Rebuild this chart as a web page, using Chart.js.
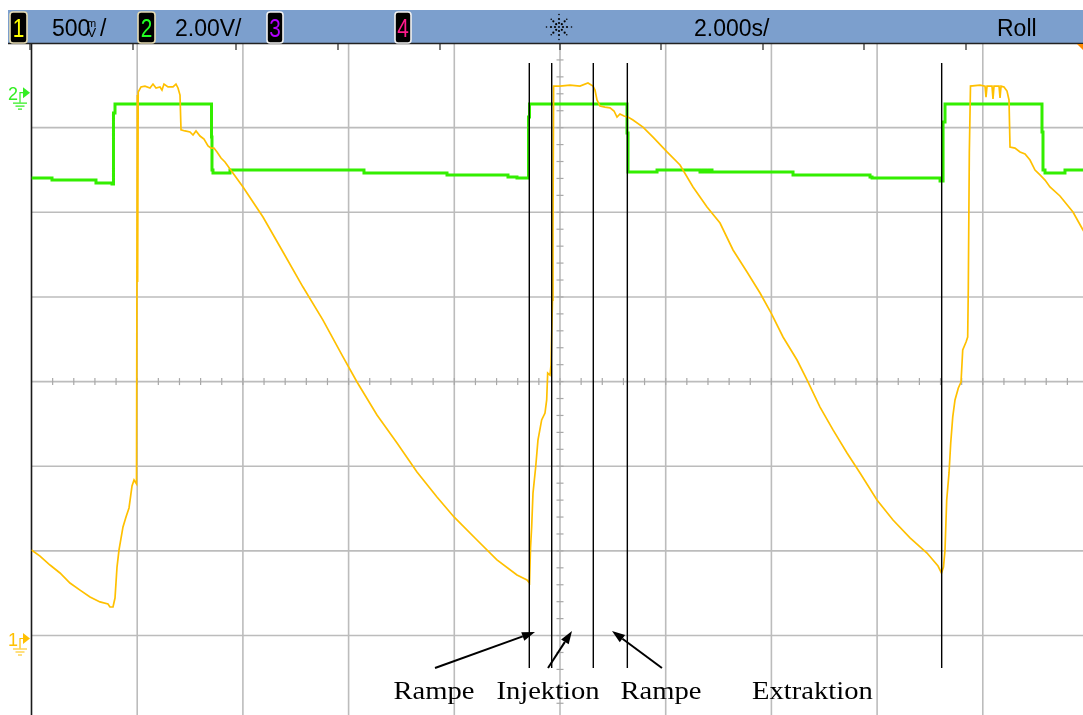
<!DOCTYPE html>
<html>
<head>
<meta charset="utf-8">
<script src="https://cdn.jsdelivr.net/npm/chart.js@4.4.1/dist/chart.umd.min.js"></script>
<style>
  html, body { margin: 0; padding: 0; background: #ffffff; overflow: hidden; }
  #wrap { position: absolute; left: 0; top: 0; width: 1100px; height: 730px; }
</style>
</head>
<body>
<div id="wrap"><canvas id="scope" width="1100" height="730"></canvas></div>
<script>
// ---- Timebase and screen divisions (2.000 s/div, 10 x 8 divisions) ----
const timeGrid = [0, 2, 4, 6, 8, 10, 12, 14, 16, 18, 20];
const divGrid = [-4, -3, -2, -1, 0, 1, 2, 3, 4];

// ---- Channel settings ----
const ch1VoltsPerDiv = 0.5;   // 500 mV/div
const ch1GroundDiv = -3.035;  // ground marker position in divisions
const ch2VoltsPerDiv = 2.0;   // 2.00 V/div
const ch2GroundDiv = 3.413;

// ---- Channel 1 (magnet current monitor), time in s, voltage in V ----
const ch1Time = [0, 0.161, 0.350, 0.539, 0.728, 0.918, 1.107, 1.296, 1.447, 1.485,
  1.542, 1.580, 1.618, 1.656, 1.731, 1.788, 1.845, 1.902, 1.940, 1.987,
  2.002, 2.008, 2.019, 2.072, 2.147, 2.242, 2.299, 2.356, 2.431, 2.469,
  2.507, 2.583, 2.677, 2.734, 2.772, 2.810, 2.829, 2.904, 2.999, 3.056,
  3.113, 3.188, 3.264, 3.340, 3.396, 3.453, 3.510, 3.586, 3.661, 3.756,
  4.002, 4.380, 4.759, 5.137, 5.515, 5.894, 6.159, 6.537, 6.916, 7.294,
  7.672, 7.994, 8.429, 8.807, 9.186, 9.375, 9.423, 9.442, 9.464, 9.489,
  9.540, 9.583, 9.653, 9.716, 9.748, 9.767, 9.811, 9.830, 9.858, 9.867,
  9.879, 9.999, 10.189, 10.378, 10.529, 10.624, 10.662, 10.700, 10.757, 10.851,
  10.946, 11.022, 11.079, 11.135, 11.211, 11.287, 11.381, 11.570, 11.760, 12.025,
  12.271, 12.517, 12.782, 13.028, 13.274, 13.539, 13.785, 13.993, 14.220, 14.485,
  14.674, 14.920, 15.166, 15.431, 15.677, 15.998, 16.301, 16.623, 16.944, 17.153,
  17.218, 17.256, 17.285, 17.317, 17.361, 17.393, 17.431, 17.474, 17.537, 17.588,
  17.620, 17.683, 17.714, 17.726, 17.745, 17.767, 17.947, 18.042, 18.061, 18.080,
  18.174, 18.193, 18.212, 18.307, 18.326, 18.345, 18.401, 18.458, 18.496, 18.515,
  18.609, 18.704, 18.799, 18.893, 18.988, 19.082, 19.177, 19.271, 19.460, 19.706,
  19.896, 19.991];
const ch1Volts = [0.523, 0.487, 0.434, 0.387, 0.328, 0.286, 0.245, 0.216, 0.204, 0.186,
  0.186, 0.239, 0.422, 0.523, 0.659, 0.718, 0.771, 0.901, 0.936, 0.913,
  3.210, 2.106, 3.228, 3.258, 3.263, 3.252, 3.275, 3.252, 3.258, 3.240,
  3.275, 3.258, 3.258, 3.275, 3.252, 3.210, 3.004, 2.998, 2.992, 2.974,
  2.998, 2.968, 2.950, 2.909, 2.897, 2.897, 2.874, 2.838, 2.815, 2.773,
  2.667, 2.490, 2.283, 2.076, 1.881, 1.663, 1.515, 1.320, 1.155, 0.983,
  0.836, 0.718, 0.582, 0.464, 0.375, 0.346, 0.328, 0.535, 0.659, 0.859,
  1.013, 1.172, 1.291, 1.332, 1.409, 1.568, 1.556, 1.615, 1.999, 2.395,
  3.263, 3.263, 3.269, 3.263, 3.281, 3.263, 3.240, 3.181, 3.145, 3.139,
  3.134, 3.116, 3.080, 3.098, 3.086, 3.080, 3.063, 3.021, 2.962, 2.874,
  2.797, 2.667, 2.549, 2.454, 2.295, 2.165, 2.041, 1.923, 1.781, 1.645,
  1.527, 1.367, 1.232, 1.096, 0.978, 0.818, 0.700, 0.594, 0.505, 0.428,
  0.387, 0.422, 0.523, 0.818, 0.978, 1.155, 1.308, 1.409, 1.480, 1.515,
  1.704, 1.751, 1.781, 2.076, 2.868, 3.263, 3.269, 3.263, 3.198, 3.263,
  3.263, 3.187, 3.263, 3.263, 3.193, 3.263, 3.258, 3.234, 3.181, 2.903,
  2.897, 2.874, 2.862, 2.826, 2.767, 2.738, 2.708, 2.667, 2.614, 2.519,
  2.413, 2.354];

// ---- Channel 2 (timing gate), level changes: time in s, voltage in V ----
const ch2Time = [0, 0.388, 1.220, 1.523, 1.551, 1.580, 3.406, 3.415, 3.434, 3.756,
  6.291, 7.862, 9.016, 9.186, 9.404, 9.423, 11.268, 11.287, 11.836, 12.649,
  12.706, 12.763, 12.820, 12.876, 14.409, 15.866, 15.904, 17.191, 17.248, 17.285,
  19.120, 19.139, 19.177, 19.555, 20];
const ch2Volts = [-2.015, -2.063, -2.134, -2.157, -0.480, -0.267, -1.047, -1.824, -1.897, -1.824,
  -1.897, -1.945, -1.992, -2.015, -0.574, -0.267, -0.952, -1.874, -1.824, -1.874,
  -1.824, -1.874, -1.824, -1.874, -1.945, -1.992, -2.015, -2.086, -0.692, -0.267,
  -0.928, -1.824, -1.897, -1.824, -1.824];

// ---- Cursor lines (time in s) and their vertical extent (divisions) ----
const cursorTimes = [9.419, 9.843, 10.630, 11.274, 17.222];
const cursorSpan = [3.764, -3.383];

// ---- Phase labels and pointer arrows (time in s, divisions) ----
const phaseLabels = ['Rampe', 'Injektion', 'Rampe', 'Extraktion'];
const phaseLabelTimes = [7.616, 9.773, 11.911, 14.777];
const phaseLabelDiv = -3.75;
const arrowTailTimes = [7.635, 9.773, 11.929];
const arrowHeadTimes = [9.527, 10.227, 10.984];
const arrowTailDiv = [-3.383, -3.383, -3.383];
const arrowHeadDiv = [-2.958, -2.946, -2.946];

const ch1Points = ch1Time.map((t, i) => ({ x: t, y: ch1Volts[i] }));
const ch2Points = ch2Time.map((t, i) => ({ x: t, y: ch2Volts[i] }));

const YELLOW = '#ffc000';
const GREEN = '#33ee00';

const scopeChrome = {
  id: 'scopeChrome',
  beforeDatasetsDraw(chart) {
    const { ctx, chartArea: a, scales } = chart;
    const xs = scales.x, yd = scales.div;
    ctx.save();
    // graticule
    ctx.strokeStyle = '#bcbcbc';
    ctx.lineWidth = 1.6;
    timeGrid.forEach(t => {
      if (t === timeGrid[0]) return;
      const px = xs.getPixelForValue(t);
      ctx.beginPath(); ctx.moveTo(px, a.top); ctx.lineTo(px, a.bottom); ctx.stroke();
    });
    divGrid.forEach(d => {
      if (d === divGrid[divGrid.length - 1]) return;
      const py = yd.getPixelForValue(d);
      ctx.beginPath(); ctx.moveTo(a.left, py); ctx.lineTo(a.right, py); ctx.stroke();
    });
    // minor ticks on the centre axes
    ctx.strokeStyle = '#a8a8a8';
    ctx.lineWidth = 1.2;
    const cy = yd.getPixelForValue(0);
    for (let t = 0.4; t < 20; t += 0.4) {
      const px = xs.getPixelForValue(t);
      ctx.beginPath(); ctx.moveTo(px, cy - 3.5); ctx.lineTo(px, cy + 3.5); ctx.stroke();
    }
    const cx = xs.getPixelForValue(10);
    for (let d = -3.8; d < 4; d += 0.2) {
      const py = yd.getPixelForValue(d);
      ctx.beginPath(); ctx.moveTo(cx - 3.5, py); ctx.lineTo(cx + 3.5, py); ctx.stroke();
    }
    // left frame edge
    ctx.strokeStyle = '#1a1a1a';
    ctx.lineWidth = 1.6;
    ctx.beginPath(); ctx.moveTo(a.left, a.top); ctx.lineTo(a.left, a.bottom); ctx.stroke();
    ctx.restore();
  },
  afterDatasetsDraw(chart) {
    const { ctx, scales } = chart;
    const xs = scales.x, yd = scales.div;
    ctx.save();
    // cursor lines
    ctx.strokeStyle = '#000';
    ctx.lineWidth = 1.4;
    cursorTimes.forEach(t => {
      const px = xs.getPixelForValue(t);
      ctx.beginPath();
      ctx.moveTo(px, yd.getPixelForValue(cursorSpan[0]));
      ctx.lineTo(px, yd.getPixelForValue(cursorSpan[1]));
      ctx.stroke();
    });
    // pointer arrows
    arrowTailTimes.forEach((t, i) => {
      const x0 = xs.getPixelForValue(t), y0 = yd.getPixelForValue(arrowTailDiv[i]);
      const x1 = xs.getPixelForValue(arrowHeadTimes[i]), y1 = yd.getPixelForValue(arrowHeadDiv[i]);
      const ang = Math.atan2(y1 - y0, x1 - x0);
      const len = 13, half = 4.5;
      const bx = x1 - len * Math.cos(ang), by = y1 - len * Math.sin(ang);
      ctx.strokeStyle = '#000'; ctx.lineWidth = 2;
      ctx.beginPath(); ctx.moveTo(x0, y0); ctx.lineTo(bx, by); ctx.stroke();
      ctx.fillStyle = '#000';
      ctx.beginPath();
      ctx.moveTo(x1, y1);
      ctx.lineTo(bx + half * Math.sin(ang), by - half * Math.cos(ang));
      ctx.lineTo(bx - half * Math.sin(ang), by + half * Math.cos(ang));
      ctx.closePath(); ctx.fill();
    });
    // phase labels
    ctx.fillStyle = '#000';
    ctx.font = '26px "Liberation Serif", "Times New Roman", serif';
    ctx.textAlign = 'center';
    ctx.textBaseline = 'alphabetic';
    phaseLabels.forEach((txt, i) => {
      ctx.save();
      ctx.translate(xs.getPixelForValue(phaseLabelTimes[i]), yd.getPixelForValue(phaseLabelDiv));
      ctx.scale(1.1, 1);
      ctx.fillText(txt, 0, 0);
      ctx.restore();
    });
    // ground reference markers
    const drawGround = (py, num, color) => {
      ctx.fillStyle = color; ctx.strokeStyle = color;
      ctx.font = '18px "Liberation Sans", Arial, sans-serif';
      ctx.textAlign = 'left';
      ctx.fillText(num, 8, py + 7);
      ctx.beginPath(); ctx.moveTo(23, py - 5.5); ctx.lineTo(30, py); ctx.lineTo(23, py + 5.5); ctx.closePath(); ctx.fill();
      ctx.lineWidth = 1.2;
      ctx.beginPath(); ctx.moveTo(23, py); ctx.lineTo(20, py); ctx.lineTo(20, py + 10); ctx.stroke();
      ctx.beginPath();
      ctx.moveTo(13, py + 10.5); ctx.lineTo(27, py + 10.5);
      ctx.moveTo(15.5, py + 13.5); ctx.lineTo(24.5, py + 13.5);
      ctx.moveTo(18, py + 16.5); ctx.lineTo(22, py + 16.5);
      ctx.stroke();
    };
    drawGround(scales.y2.getPixelForValue(0), '2', '#33ee22');
    drawGround(scales.y1.getPixelForValue(0), '1', YELLOW);
    ctx.restore();
  },
  afterDraw(chart) {
    const { ctx } = chart;
    ctx.save();
    // status bar
    ctx.fillStyle = '#7c9fcd';
    ctx.fillRect(8, 10, 1100, 34);
    ctx.strokeStyle = '#222';
    ctx.lineWidth = 1.5;
    ctx.beginPath(); ctx.moveTo(8, 43.5); ctx.lineTo(1100, 43.5); ctx.stroke();
    ctx.lineWidth = 1.2;
    [30, 133, 236, 338, 440, 560, 661, 763, 864, 966].forEach(x => {
      ctx.beginPath(); ctx.moveTo(x, 44); ctx.lineTo(x, 50); ctx.stroke();
    });
    ctx.fillStyle = '#ff8a00';
    ctx.beginPath(); ctx.moveTo(1077, 44); ctx.lineTo(1084, 44); ctx.lineTo(1084, 51); ctx.closePath(); ctx.fill();

    const badge = (x, w, digit, color, edge) => {
      ctx.beginPath();
      ctx.roundRect(x, 12, w, 31, 3);
      ctx.fillStyle = '#000'; ctx.fill();
      ctx.strokeStyle = edge; ctx.lineWidth = 1.6; ctx.stroke();
      ctx.save();
      ctx.fillStyle = color;
      ctx.font = '26px "Liberation Sans", Arial, sans-serif';
      ctx.textAlign = 'center';
      ctx.translate(x + w / 2, 37);
      ctx.scale(0.8, 1);
      ctx.fillText(digit, 0, 0);
      ctx.restore();
    };
    badge(10, 17, '1', '#ffff00', '#e6dcb4');
    badge(138, 17, '2', '#22ff22', '#e6dcb4');
    badge(267, 16, '3', '#b400ff', '#f2f2f2');
    badge(395, 16, '4', '#ff1a8c', '#f2f2f2');

    ctx.fillStyle = '#000';
    ctx.textAlign = 'left';
    ctx.textBaseline = 'alphabetic';
    ctx.font = '23px "Liberation Sans", Arial, sans-serif';
    ctx.fillText('500', 52, 36);
    ctx.font = '11px "Liberation Sans", Arial, sans-serif';
    ctx.fillText('m', 87, 27);
    ctx.font = '13px "Liberation Sans", Arial, sans-serif';
    ctx.fillText('V', 87.5, 36.5);
    ctx.font = '23px "Liberation Sans", Arial, sans-serif';
    ctx.fillText('/', 100, 36);
    ctx.fillText('2.00V/', 175, 36);
    ctx.fillText('2.000s/', 694, 36);
    ctx.fillText('Roll', 997, 36);

    // trigger-mode starburst
    const sx = 559, sy = 27;
    for (let k = 0; k < 8; k++) {
      const ang = k * Math.PI / 4;
      const radii = (k % 2 === 0) ? [4, 8, 12.5] : [4, 8, 11];
      radii.forEach(r => {
        ctx.beginPath();
        ctx.arc(sx + r * Math.cos(ang), sy + r * Math.sin(ang), r > 10 ? 0.8 : 1.1, 0, Math.PI * 2);
        ctx.fill();
      });
    }
    ctx.beginPath(); ctx.arc(sx, sy, 1, 0, Math.PI * 2); ctx.fill();
    ctx.restore();
  }
};

new Chart(document.getElementById('scope'), {
  type: 'line',
  data: {
    datasets: [
      { label: 'Kanal 1', data: ch1Points, yAxisID: 'y1', borderColor: YELLOW,
        borderWidth: 1.7, pointRadius: 0, tension: 0, fill: false },
      { label: 'Kanal 2', data: ch2Points, yAxisID: 'y2', borderColor: GREEN,
        borderWidth: 3, pointRadius: 0, tension: 0, stepped: 'before', fill: false }
    ]
  },
  options: {
    responsive: false,
    animation: false,
    devicePixelRatio: 1,
    layout: { padding: { left: 31.5, top: 43, right: 11.5, bottom: 9.8 } },
    plugins: { legend: { display: false }, tooltip: { enabled: false } },
    scales: {
      x: { type: 'linear', axis: 'x', position: 'bottom',
           min: timeGrid[0], max: timeGrid[timeGrid.length - 1], display: false },
      div: { type: 'linear', axis: 'y', position: 'left',
             min: divGrid[0], max: divGrid[divGrid.length - 1], display: false },
      y1: { type: 'linear', axis: 'y', position: 'left',
            min: (divGrid[0] - ch1GroundDiv) * ch1VoltsPerDiv,
            max: (divGrid[divGrid.length - 1] - ch1GroundDiv) * ch1VoltsPerDiv, display: false },
      y2: { type: 'linear', axis: 'y', position: 'left',
            min: (divGrid[0] - ch2GroundDiv) * ch2VoltsPerDiv,
            max: (divGrid[divGrid.length - 1] - ch2GroundDiv) * ch2VoltsPerDiv, display: false }
    }
  },
  plugins: [scopeChrome]
});
</script>
</body>
</html>
